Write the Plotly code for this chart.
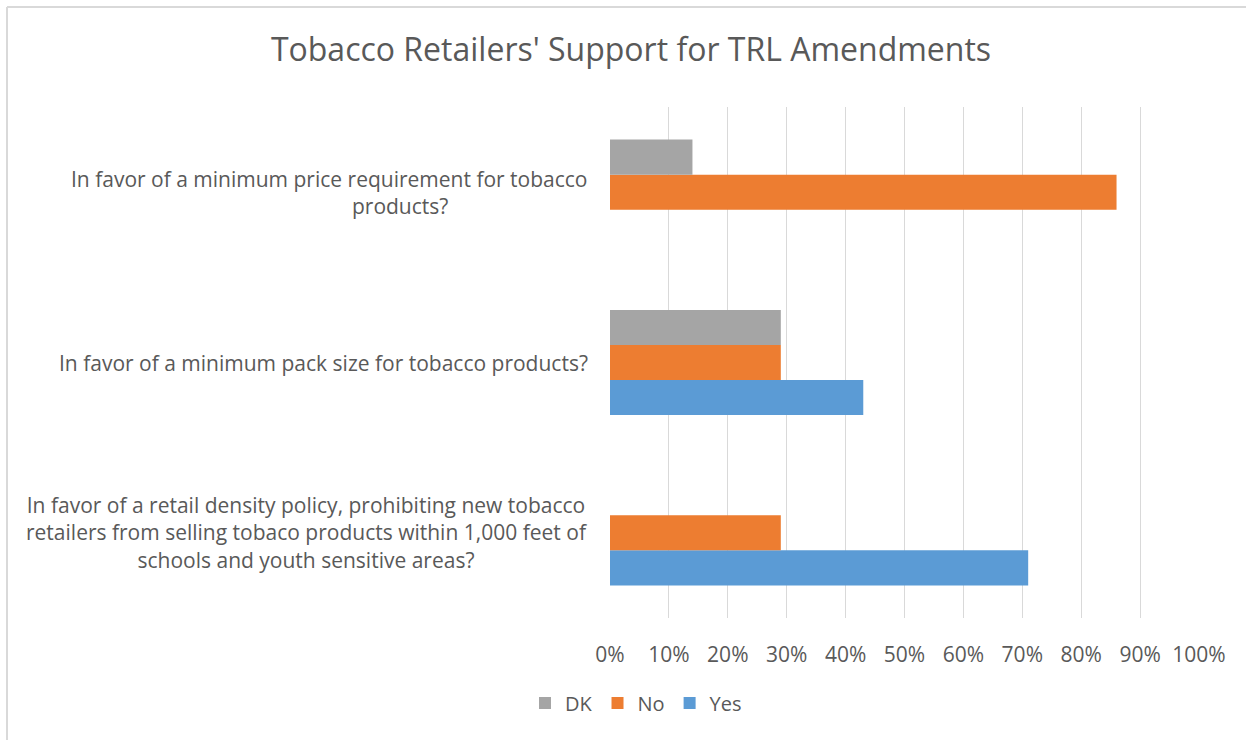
import plotly.graph_objects as go

# Survey questions, listed bottom-to-top as they appear on the category axis
questions = [
    "In favor of a retail density policy, prohibiting new tobacco<br>retailers from selling tobaco products within 1,000 feet of<br>schools and youth sensitive areas?",
    "In favor of a minimum pack size for tobacco products?",
    "In favor of a minimum price requirement for tobacco<br>" + "&nbsp;" * 26 + "products?",
]
categories = ["retail_density", "pack_size", "min_price"]

# Share of retailers answering each way (percent)
yes_pct = [71, 43, None]
no_pct = [29, 29, 86]
dk_pct = [None, 29, 14]

title_text = "Tobacco Retailers' Support for TRL Amendments"
x_ticks = list(range(0, 101, 10))
x_tick_labels = [f"{v}%" for v in x_ticks]

TEXT = "#595959"
GRID = "#D9D9D9"
FONT = "'Open Sans', Lato, sans-serif"

fig = go.Figure()
for name, vals, color in [
    ("Yes", yes_pct, "#5B9BD5"),
    ("No", no_pct, "#ED7D31"),
    ("DK", dk_pct, "#A5A5A5"),
]:
    fig.add_trace(go.Bar(
        name=name, y=categories, x=vals, orientation="h",
        marker=dict(color=color, line=dict(width=0)),
        hoverinfo="x+name",
    ))

# Category labels, centred line by line and right-aligned against the plot
for cat, label in zip(categories, questions):
    fig.add_annotation(
        x=0, xref="paper", y=cat, yref="y",
        xanchor="right", yanchor="middle", xshift=-20,
        text=label, showarrow=False, align="center",
        font=dict(family=FONT, size=21, color=TEXT),
    )

W, H = 1246, 740
# Chart frame (top and left edges)
fig.add_shape(type="line", xref="paper", yref="paper",
              x0=(7 - 610) / 589, x1=(1246 - 610) / 589,
              y0=1 + (107 - 7) / 511, y1=1 + (107 - 7) / 511,
              line=dict(color=GRID, width=2))
fig.add_shape(type="line", xref="paper", yref="paper",
              x0=(7 - 610) / 589, x1=(7 - 610) / 589,
              y0=1 + (107 - 7) / 511, y1=-(740 - 618) / 511,
              line=dict(color=GRID, width=2))

fig.update_layout(
    width=W, height=H,
    margin=dict(l=610, r=47, t=107, b=122),
    paper_bgcolor="white", plot_bgcolor="white",
    barmode="group", bargap=0.383, bargroupgap=0,
    font=dict(family=FONT, color=TEXT),
    title=dict(
        text=title_text, xref="container", x=631 / W, xanchor="center",
        yref="container", y=1 - 50 / H, yanchor="middle",
        font=dict(family=FONT, size=32, color=TEXT),
    ),
    xaxis=dict(
        range=[0, 100], tickmode="array", tickvals=x_ticks, ticktext=x_tick_labels,
        showgrid=True, gridcolor=GRID, gridwidth=1,
        zeroline=False, showline=False, ticks="",
        ticklabelstandoff=22,
        tickfont=dict(family=FONT, size=21, color=TEXT),
        fixedrange=True,
    ),
    yaxis=dict(
        categoryorder="array", categoryarray=categories,
        showticklabels=False, showgrid=False, zeroline=False,
        showline=False, ticks="", fixedrange=True,
    ),
    legend=dict(
        orientation="h", traceorder="reversed",
        xref="container", x=636 / W, xanchor="center",
        yref="container", y=1 - 703 / H, yanchor="middle",
        font=dict(family=FONT, size=20, color=TEXT),
        itemwidth=30,
    ),
    showlegend=True,
)

fig.write_html("out.html")
